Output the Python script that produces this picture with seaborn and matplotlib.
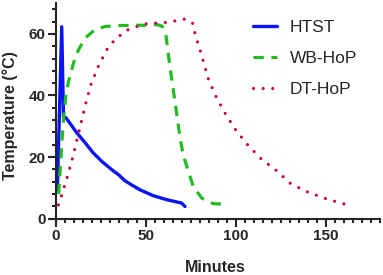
import numpy as np
import pandas as pd
import matplotlib
matplotlib.use('agg')
import matplotlib.pyplot as plt
from matplotlib.ticker import MultipleLocator
import seaborn as sns

sns.set_style('ticks')
plt.rcParams['font.family'] = ['Liberation Sans', 'DejaVu Sans']

# data (minutes, degrees C)
htst_t = [0.8, 3.2, 4.2, 5.5, 8.0, 11.7, 16.3, 20.5, 25.5, 31.1, 35.0, 38.0, 42.0, 46.7, 54.0, 61.5, 69.8, 71.7]
htst_T = [9.5, 62.3, 33.0, 32.8, 30.8, 27.8, 24.6, 21.5, 18.6, 15.9, 14.2, 12.5, 11.0, 9.4, 7.5, 6.2, 5.1, 4.0]

wb_t = [1.5, 3.3, 4.3, 5.5, 7.0, 9.8, 12.6, 16.3, 21.8, 27.4, 35.0, 50.0, 56.0, 59.0, 61.0, 63.3,
        66.0, 69.0, 70.7, 73.5, 76.3, 81.0, 87.4, 92.0]
wb_T = [8.0, 25.0, 33.0, 40.0, 44.6, 50.6, 54.9, 58.7, 61.4, 62.4, 62.7, 62.8, 63.0, 62.5, 60.0, 49.4,
        38.6, 26.0, 20.8, 15.4, 10.5, 6.7, 4.9, 4.8]

dt_t = [1.3, 2.9, 6.1, 9.1, 12.9, 16.7, 19.6, 23.7, 28.5, 32.0, 36.1, 40.7, 50.4, 61.5, 71.7, 75.9,
        77.5, 80.0, 84.6, 88.9, 93.9, 99.4, 106.5, 113.9, 122.6, 130.4, 139.8, 150.0, 160.2]
dt_T = [4.5, 7.2, 13.2, 19.4, 28.6, 37.8, 43.8, 49.7, 55.1, 57.6, 59.7, 61.6, 63.3, 63.7, 64.8, 63.5,
        59.5, 54.9, 45.5, 39.7, 34.3, 29.2, 24.0, 19.5, 15.6, 11.4, 8.7, 6.5, 4.8]

labels = ['HTST', 'WB-HoP', 'DT-HoP']
colors = ['#0a14f5', '#22bb22', '#cc0055']

fig = plt.figure(figsize=(3.83, 2.75), dpi=100)
ax = fig.add_axes([0.132, 0.182, 0.86, 0.807])

df_htst = pd.DataFrame({'Minutes': htst_t, 'Temp': htst_T})
df_wb = pd.DataFrame({'Minutes': wb_t, 'Temp': wb_T})
df_dt = pd.DataFrame({'Minutes': dt_t, 'Temp': dt_T})

sns.lineplot(data=df_htst, x='Minutes', y='Temp', ax=ax, sort=False, estimator=None,
             color=colors[0], lw=2.4, label=labels[0])
sns.lineplot(data=df_wb, x='Minutes', y='Temp', ax=ax, sort=False, estimator=None,
             color=colors[1], lw=2.3, label=labels[1], linestyle=(0, (3.2, 2.4)))
sns.lineplot(data=df_dt, x='Minutes', y='Temp', ax=ax, sort=False, estimator=None,
             color=colors[2], lw=2.3, label=labels[2], linestyle=(0, (0.01, 3.0)),
             dash_capstyle='round')

ax.set_xlim(-3, 180)
ax.set_ylim(-2, 70)
ax.spines['left'].set_position(('data', 0))
ax.spines['bottom'].set_position(('data', 0))
ax.spines['top'].set_visible(False)
ax.spines['right'].set_visible(False)
for s in ['left', 'bottom']:
    ax.spines[s].set_linewidth(1.5)

ax.xaxis.set_major_locator(MultipleLocator(50))
ax.xaxis.set_minor_locator(MultipleLocator(5))
ax.yaxis.set_major_locator(MultipleLocator(20))
ax.yaxis.set_minor_locator(MultipleLocator(4))
ax.tick_params(which='major', length=5.5, width=1.5, labelsize=11, pad=2)
ax.tick_params(which='minor', length=3, width=1.5)
for lab in ax.get_xticklabels() + ax.get_yticklabels():
    lab.set_fontweight('bold')

ax.set_xlabel('')
ax.set_ylabel('')
fig.text(0.561, 0.028, 'Minutes', fontsize=11.5, fontweight='bold', ha='center', va='center')
fig.text(0.027, 0.578, 'Temperature (°C)', fontsize=11.5, fontweight='bold', ha='center',
         va='center', rotation=90)

leg = ax.legend(loc='upper left', bbox_to_anchor=(0.62, 0.985), bbox_transform=fig.transFigure,
                frameon=False, fontsize=12.5, handlelength=1.35, handletextpad=0.75,
                labelspacing=0.93)

fig.savefig('out.png', dpi=100)
